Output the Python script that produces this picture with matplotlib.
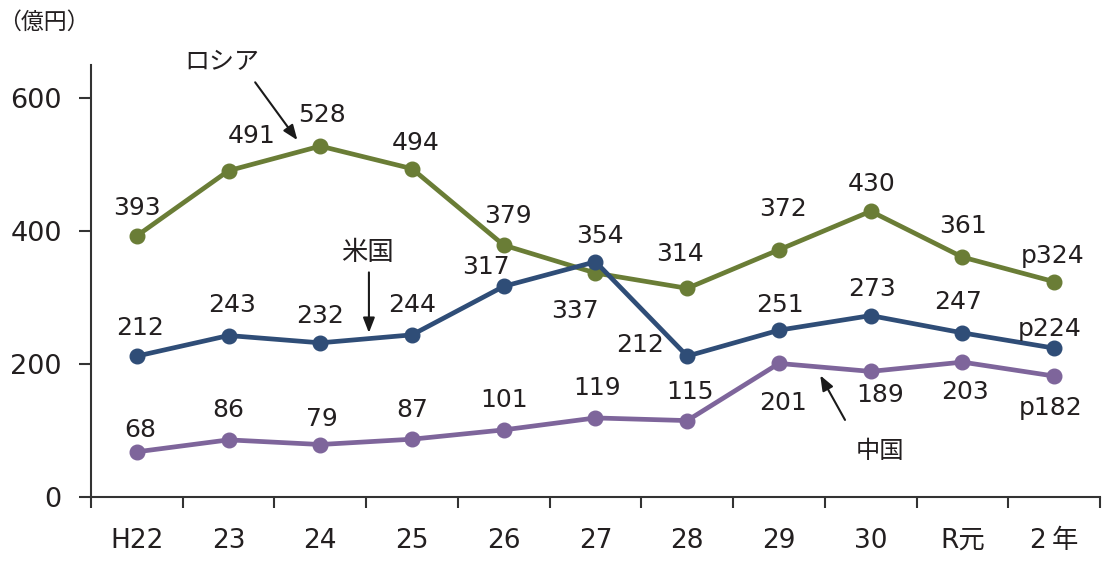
import matplotlib.pyplot as plt
from matplotlib.ticker import FixedLocator

plt.rcParams['font.family'] = ['DejaVu Sans', 'Noto Sans CJK JP']

years = ['H22', '23', '24', '25', '26', '27', '28', '29', '30', 'R元', '2\u2009年']
russia = [393, 491, 528, 494, 379, 337, 314, 372, 430, 361, 324]
usa = [212, 243, 232, 244, 317, 354, 212, 251, 273, 247, 224]
china = [68, 86, 79, 87, 101, 119, 115, 201, 189, 203, 182]

# last year is preliminary
russia_labels = [str(v) for v in russia[:-1]] + ['p%d' % russia[-1]]
usa_labels = [str(v) for v in usa[:-1]] + ['p%d' % usa[-1]]
china_labels = [str(v) for v in china[:-1]] + ['p%d' % china[-1]]

# label offsets in pixels
russia_off = [(0, 28), (23, 35), (2, 31), (4, 26), (4, 29), (-21, -38),
              (-7, 34), (4, 41), (1, 27), (1, 31), (-2, 26)]
usa_off = [(3, 28), (3, 31), (0, 27), (0, 30), (-18, 19), (4, 26),
           (-47, 11), (1, 25), (1, 27), (-4, 31), (-4, 19)]
china_off = [(3, 22), (0, 30), (2, 26), (0, 29), (0, 30), (2, 30),
             (3, 29), (4, -40), (9, -24), (3, -30), (-4, -32)]

c_russia = '#6a7d36'
c_usa = '#2f4d77'
c_china = '#7e659b'
c_text = '#231f20'

fig = plt.figure(figsize=(11.04, 5.63), dpi=100)
ax = fig.add_axes([0.0824, 0.1172, 0.914, 0.7673])

x = list(range(len(years)))
for vals, labels, offs, col in [(russia, russia_labels, russia_off, c_russia),
                                (usa, usa_labels, usa_off, c_usa),
                                (china, china_labels, china_off, c_china)]:
    ax.plot(x, vals, color=col, lw=3.4, marker='o', ms=10.5, zorder=3)
    for xi, v, lab, off in zip(x, vals, labels, offs):
        ax.annotate(lab, (xi, v), xytext=off, textcoords='offset pixels',
                    ha='center', va='center', fontsize=18, color=c_text)

ax.set_xlim(-0.5, len(years) - 0.5)
ax.set_ylim(0, 650)
ax.set_yticks([0, 200, 400, 600])
ax.set_xticks(x)
ax.set_xticklabels(years)
ax.xaxis.set_minor_locator(FixedLocator([i - 0.5 for i in range(len(years) + 1)]))
ax.tick_params(axis='x', which='major', length=0, pad=22, labelsize=19, colors=c_text)
ax.tick_params(axis='x', which='minor', length=8, width=1.5, color='#333333')
ax.tick_params(axis='y', length=9, width=1.5, pad=12, labelsize=19.5, colors=c_text,
               color='#333333')
for side in ['top', 'right']:
    ax.spines[side].set_visible(False)
for side in ['left', 'bottom']:
    ax.spines[side].set_linewidth(1.5)
    ax.spines[side].set_color('#333333')

fig.text(0.040, 0.960, '（億円）', fontsize=16.5, color=c_text, va='center', ha='center')

arrow = dict(arrowstyle='-|>,head_length=0.9,head_width=0.35', color='#1a1a1a', lw=1.5,
             shrinkA=0, shrinkB=0)
ax.text(0.93, 654, 'ロシア', fontsize=18, color=c_text, ha='center', va='center', clip_on=False)
ax.annotate('', xy=(1.75, 537), xytext=(1.29, 624), arrowprops=arrow, annotation_clip=False)
ax.text(2.51, 367, '米国', fontsize=19, color=c_text, ha='center', va='center')
ax.annotate('', xy=(2.53, 247), xytext=(2.53, 338), arrowprops=arrow)
ax.text(8.10, 69, '中国', fontsize=17.5, color=c_text, ha='center', va='center')
ax.annotate('', xy=(7.45, 183), xytext=(7.72, 116), arrowprops=arrow)

fig.savefig('out.png', dpi=100)
